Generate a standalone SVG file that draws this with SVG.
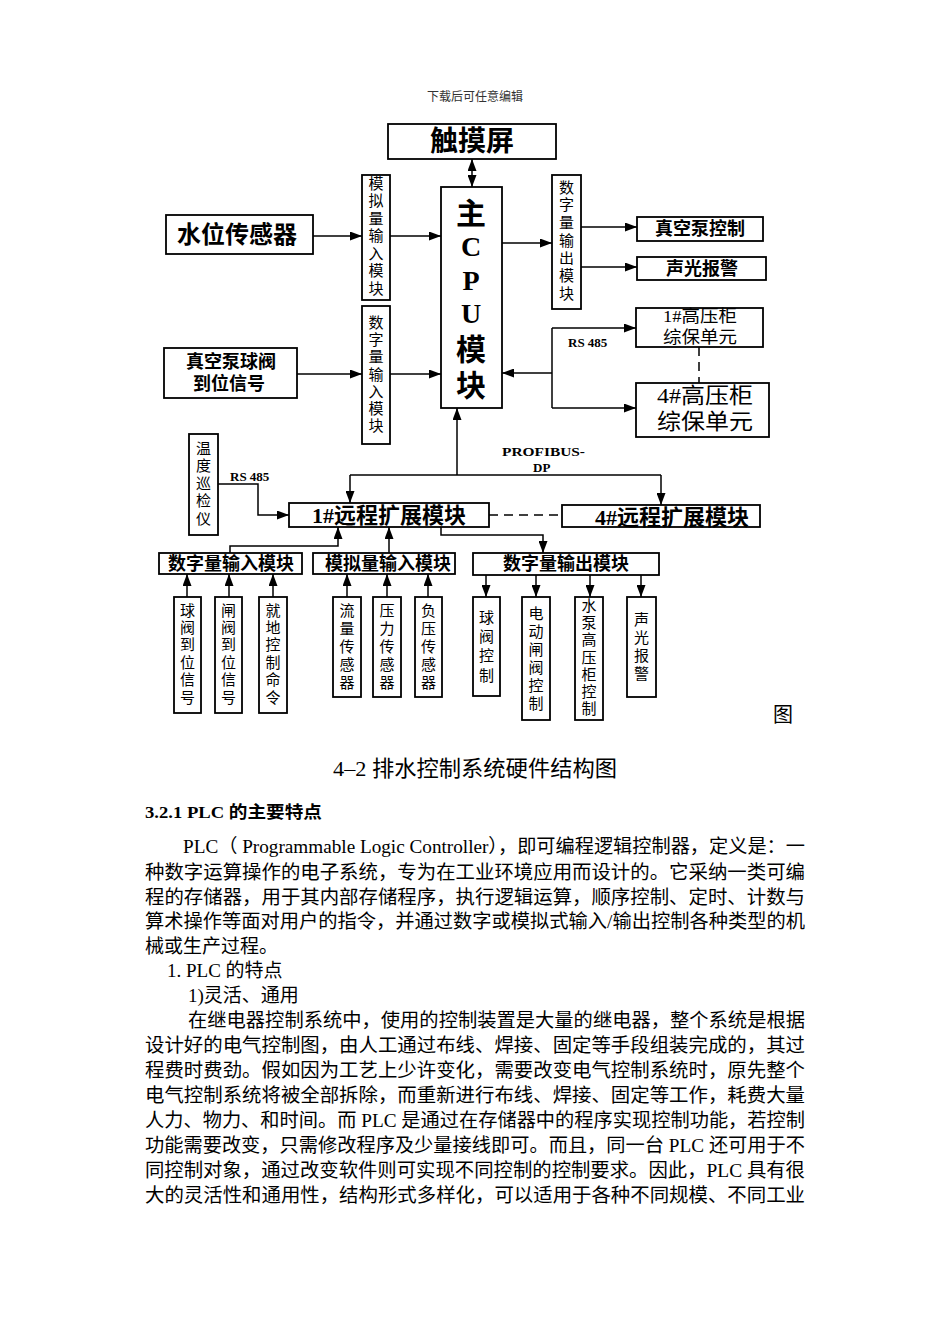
<svg xmlns="http://www.w3.org/2000/svg" width="950" height="1344" viewBox="0 0 950 1344">
<style>
.bx{fill:#fff;stroke:#000;stroke-width:1.8}
.ln{fill:none;stroke:#000;stroke-width:1.5}
.ar{marker-end:url(#ah)}
.ds{fill:none;stroke:#000;stroke-width:1.5;stroke-dasharray:9,6}
.cj{font-family:"Liberation Serif","Noto Sans CJK SC",serif;font-weight:bold;fill:#000;text-anchor:middle}
.cr{font-family:"Liberation Serif","Noto Sans CJK SC",serif;fill:#000;text-anchor:middle}
.v{font-family:"Noto Sans CJK SC",sans-serif;font-size:15px;fill:#000;writing-mode:vertical-rl;text-anchor:start}
.lt{font-family:"Liberation Serif","Noto Sans CJK SC",serif;font-weight:bold;font-size:13px;fill:#000}
.bd{font-family:"Liberation Serif","Noto Sans CJK SC",serif;font-size:19px;fill:#000}
.cpu{font-family:"Liberation Serif",serif;font-weight:bold;font-size:28px;fill:#000;text-anchor:middle}
</style>
<defs>
<marker id="ah" viewBox="0 0 12 9" refX="12" refY="4.5" markerWidth="12" markerHeight="9" markerUnits="userSpaceOnUse" orient="auto-start-reverse">
<path d="M0,0 L12,4.5 L0,9 z" fill="#000"/>
</marker>
</defs>
<rect width="950" height="1344" fill="#fff"/>
<text x="475" y="101" class="cr" style="font-size:12px;fill:#333">下载后可任意编辑</text>

<g id="connectors">
<line class="ln" x1="472" y1="159" x2="472" y2="187" marker-start="url(#ah)" marker-end="url(#ah)"/>
<line class="ln ar" x1="313" y1="236" x2="362" y2="236"/>
<line class="ln ar" x1="383" y1="236" x2="441" y2="236"/>
<line class="ln ar" x1="297" y1="374" x2="362" y2="374"/>
<line class="ln ar" x1="383" y1="374" x2="441" y2="374"/>
<line class="ln ar" x1="502" y1="243" x2="552" y2="243"/>
<line class="ln ar" x1="581" y1="227" x2="637" y2="227"/>
<line class="ln ar" x1="581" y1="267" x2="637" y2="267"/>
<line class="ln" x1="552" y1="328" x2="552" y2="408"/>
<line class="ln ar" x1="552" y1="328" x2="636" y2="328"/>
<line class="ln ar" x1="552" y1="408" x2="636" y2="408"/>
<line class="ln ar" x1="552" y1="373" x2="502" y2="373"/>
<line class="ds" x1="699" y1="347" x2="699" y2="383"/>
<line class="ln ar" x1="457" y1="475" x2="457" y2="408"/>
<line class="ln" x1="350" y1="475" x2="661" y2="475"/>
<line class="ln ar" x1="350" y1="475" x2="350" y2="503"/>
<line class="ln ar" x1="661" y1="475" x2="661" y2="505"/>
<line class="ds" x1="489" y1="515" x2="562" y2="515"/>
<polyline class="ln ar" points="218,484 258,484 258,515 289,515"/>
<polyline class="ln ar" points="230,553 230,546 338,546 338,527"/>
<line class="ln ar" x1="389" y1="553" x2="389" y2="527"/>
<polyline class="ln ar" points="441,527 441,535 543,535 543,553"/>
<line class="ln ar" x1="187" y1="597" x2="187" y2="574"/>
<line class="ln ar" x1="229" y1="597" x2="229" y2="574"/>
<line class="ln ar" x1="273" y1="597" x2="273" y2="574"/>
<line class="ln ar" x1="347" y1="597" x2="347" y2="574"/>
<line class="ln ar" x1="387" y1="597" x2="387" y2="574"/>
<line class="ln ar" x1="428" y1="597" x2="428" y2="574"/>
<line class="ln ar" x1="486" y1="575" x2="486" y2="597"/>
<line class="ln ar" x1="536" y1="575" x2="536" y2="597"/>
<line class="ln ar" x1="590" y1="575" x2="590" y2="597"/>
<line class="ln ar" x1="641" y1="575" x2="641" y2="597"/>
<text x="230" y="481" class="lt">RS 485</text>
<text x="568" y="347" class="lt">RS 485</text>
<text x="502" y="456" class="lt" textLength="83" lengthAdjust="spacingAndGlyphs">PROFIBUS-</text>
<text x="533" y="472" class="lt">DP</text>
</g>

<g id="touch">
<rect class="bx" x="388" y="124" width="168" height="35"/>
<text x="472" y="151" class="cj" style="font-size:28px">触摸屏</text>
</g>

<g id="cpu">
<rect class="bx" x="441" y="187" width="61" height="221"/>
<text x="471" y="224" class="cj" style="font-size:30px">主</text>
<text x="471" y="256" class="cpu">C</text>
<text x="471" y="290" class="cpu">P</text>
<text x="471" y="323" class="cpu">U</text>
<text x="471" y="360" class="cj" style="font-size:30px">模</text>
<text x="471" y="396" class="cj" style="font-size:30px">块</text>
</g>

<g id="water-sensor">
<rect class="bx" x="166" y="215" width="147" height="39"/>
<text x="237" y="243" class="cj" style="font-size:24px">水位传感器</text>
</g>

<g id="ai-module">
<rect class="bx" x="362" y="175" width="28" height="125"/>
<text class="v" x="376" y="175.5" style="letter-spacing:2.5px">模拟量输入模块</text>
</g>

<g id="valve-signal">
<rect class="bx" x="164" y="348" width="133" height="50"/>
<text x="231" y="368" class="cj" style="font-size:18px">真空泵球阀</text>
<text x="229" y="390" class="cj" style="font-size:18px">到位信号</text>
</g>

<g id="di-module">
<rect class="bx" x="362" y="306" width="28" height="138"/>
<text class="v" x="376" y="314.5" style="letter-spacing:2.3px">数字量输入模块</text>
</g>

<g id="do-module">
<rect class="bx" x="552" y="175" width="29" height="134"/>
<text class="v" x="566.5" y="179.5" style="letter-spacing:2.7px">数字量输出模块</text>
</g>

<g id="vacuum-pump">
<rect class="bx" x="637" y="217" width="126" height="24"/>
<text x="700" y="235" class="cj" style="font-size:18px">真空泵控制</text>
</g>

<g id="alarm">
<rect class="bx" x="637" y="257" width="129" height="23"/>
<text x="702" y="275" class="cj" style="font-size:18px">声光报警</text>
</g>

<g id="hv1">
<rect class="bx" x="636" y="308" width="127" height="39"/>
<text x="700" y="322" class="cr" style="font-size:17px" textLength="74" lengthAdjust="spacingAndGlyphs">1#高压柜</text>
<text x="700" y="342.5" class="cr" style="font-size:17px" textLength="74" lengthAdjust="spacingAndGlyphs">综保单元</text>
</g>

<g id="hv4">
<rect class="bx" x="636" y="383" width="133" height="54"/>
<text x="705" y="403" class="cr" style="font-size:22px" textLength="96" lengthAdjust="spacingAndGlyphs">4#高压柜</text>
<text x="705" y="429" class="cr" style="font-size:22px" textLength="96" lengthAdjust="spacingAndGlyphs">综保单元</text>
</g>

<g id="temp">
<rect class="bx" x="189" y="434" width="29" height="101"/>
<text class="v" x="203.5" y="440.5" style="letter-spacing:2.5px">温度巡检仪</text>
</g>

<g id="remote1">
<rect class="bx" x="289" y="503" width="200" height="24"/>
<text x="389" y="523" class="cj" style="font-size:22px">1#远程扩展模块</text>
</g>

<g id="remote4">
<rect class="bx" x="562" y="505" width="198" height="22"/>
<text x="672" y="525" class="cj" style="font-size:22px">4#远程扩展模块</text>
</g>

<g id="di-sub">
<rect class="bx" x="159" y="553" width="143" height="21"/>
<text x="231" y="570" class="cj" style="font-size:18px">数字量输入模块</text>
</g>
<g id="ai-sub">
<rect class="bx" x="313" y="553" width="142" height="21"/>
<text x="388" y="570" class="cj" style="font-size:18px">模拟量输入模块</text>
</g>
<g id="do-sub">
<rect class="bx" x="473" y="553" width="186" height="22"/>
<text x="566" y="570" class="cj" style="font-size:18px">数字量输出模块</text>
</g>

<g id="n-qf">
<rect class="bx" x="174" y="597" width="27" height="116"/>
<text class="v" x="187.5" y="602.5" style="letter-spacing:2.4px">球阀到位信号</text>
</g>
<g id="n-zf">
<rect class="bx" x="215" y="597" width="27" height="116"/>
<text class="v" x="228.5" y="602.5" style="letter-spacing:2.4px">闸阀到位信号</text>
</g>
<g id="n-jd">
<rect class="bx" x="259" y="597" width="28" height="116"/>
<text class="v" x="273" y="602.5" style="letter-spacing:2.4px">就地控制命令</text>
</g>
<g id="n-ll">
<rect class="bx" x="333" y="597" width="28" height="100"/>
<text class="v" x="347" y="602.5" style="letter-spacing:3px">流量传感器</text>
</g>
<g id="n-yl">
<rect class="bx" x="373" y="597" width="28" height="100"/>
<text class="v" x="387" y="602.5" style="letter-spacing:3px">压力传感器</text>
</g>
<g id="n-fy">
<rect class="bx" x="415" y="597" width="27" height="100"/>
<text class="v" x="428.5" y="602.5" style="letter-spacing:3px">负压传感器</text>
</g>
<g id="n-qfkz">
<rect class="bx" x="473" y="597" width="27" height="99"/>
<text class="v" x="486.5" y="609.5" style="letter-spacing:4.3px">球阀控制</text>
</g>
<g id="n-ddzf">
<rect class="bx" x="522" y="597" width="28" height="123"/>
<text class="v" x="536" y="605.5" style="letter-spacing:3px">电动闸阀控制</text>
</g>
<g id="n-sb">
<rect class="bx" x="575" y="597" width="28" height="123"/>
<text class="v" x="589" y="597.5" style="letter-spacing:2.3px">水泵高压柜控制</text>
</g>
<g id="n-sg">
<rect class="bx" x="627" y="597" width="29" height="100"/>
<text class="v" x="641.5" y="611.5" style="letter-spacing:3px">声光报警</text>
</g>

<g id="body">
<text x="773" y="722" class="bd" style="font-size:20px">图</text>
<text x="333" y="776" class="bd" style="font-size:22px" textLength="284" lengthAdjust="spacingAndGlyphs">4–2 排水控制系统硬件结构图</text>
<text x="145" y="818" class="bd" style="font-size:17px;font-weight:bold" textLength="177" lengthAdjust="spacingAndGlyphs">3.2.1 PLC 的主要特点</text>
<text x="183" y="853" class="bd" textLength="622" lengthAdjust="spacingAndGlyphs">PLC（ Programmable Logic Controller），即可编程逻辑控制器，定义是：一</text>
<text x="145" y="879" class="bd" textLength="660" lengthAdjust="spacingAndGlyphs">种数字运算操作的电子系统，专为在工业环境应用而设计的。它采纳一类可编</text>
<text x="145" y="904" class="bd" textLength="660" lengthAdjust="spacingAndGlyphs">程的存储器，用于其内部存储程序，执行逻辑运算，顺序控制、定时、计数与</text>
<text x="145" y="928" class="bd" textLength="660" lengthAdjust="spacingAndGlyphs">算术操作等面对用户的指令，并通过数字或模拟式输入/输出控制各种类型的机</text>
<text x="145" y="953" class="bd">械或生产过程。</text>
<text x="167" y="977" class="bd">1. PLC 的特点</text>
<text x="188" y="1002" class="bd">1)灵活、通用</text>
<text x="188" y="1027" class="bd" textLength="617" lengthAdjust="spacingAndGlyphs">在继电器控制系统中，使用的控制装置是大量的继电器，整个系统是根据</text>
<text x="145" y="1052" class="bd" textLength="660" lengthAdjust="spacingAndGlyphs">设计好的电气控制图，由人工通过布线、焊接、固定等手段组装完成的，其过</text>
<text x="145" y="1077" class="bd" textLength="660" lengthAdjust="spacingAndGlyphs">程费时费劲。假如因为工艺上少许变化，需要改变电气控制系统时，原先整个</text>
<text x="145" y="1102" class="bd" textLength="660" lengthAdjust="spacingAndGlyphs">电气控制系统将被全部拆除，而重新进行布线、焊接、固定等工作，耗费大量</text>
<text x="145" y="1127" class="bd" textLength="660" lengthAdjust="spacingAndGlyphs">人力、物力、和时间。而 PLC 是通过在存储器中的程序实现控制功能，若控制</text>
<text x="145" y="1152" class="bd" textLength="660" lengthAdjust="spacingAndGlyphs">功能需要改变，只需修改程序及少量接线即可。而且，同一台 PLC 还可用于不</text>
<text x="145" y="1177" class="bd" textLength="660" lengthAdjust="spacingAndGlyphs">同控制对象，通过改变软件则可实现不同控制的控制要求。因此，PLC 具有很</text>
<text x="145" y="1202" class="bd" textLength="660" lengthAdjust="spacingAndGlyphs">大的灵活性和通用性，结构形式多样化，可以适用于各种不同规模、不同工业</text>
</g>
</svg>
